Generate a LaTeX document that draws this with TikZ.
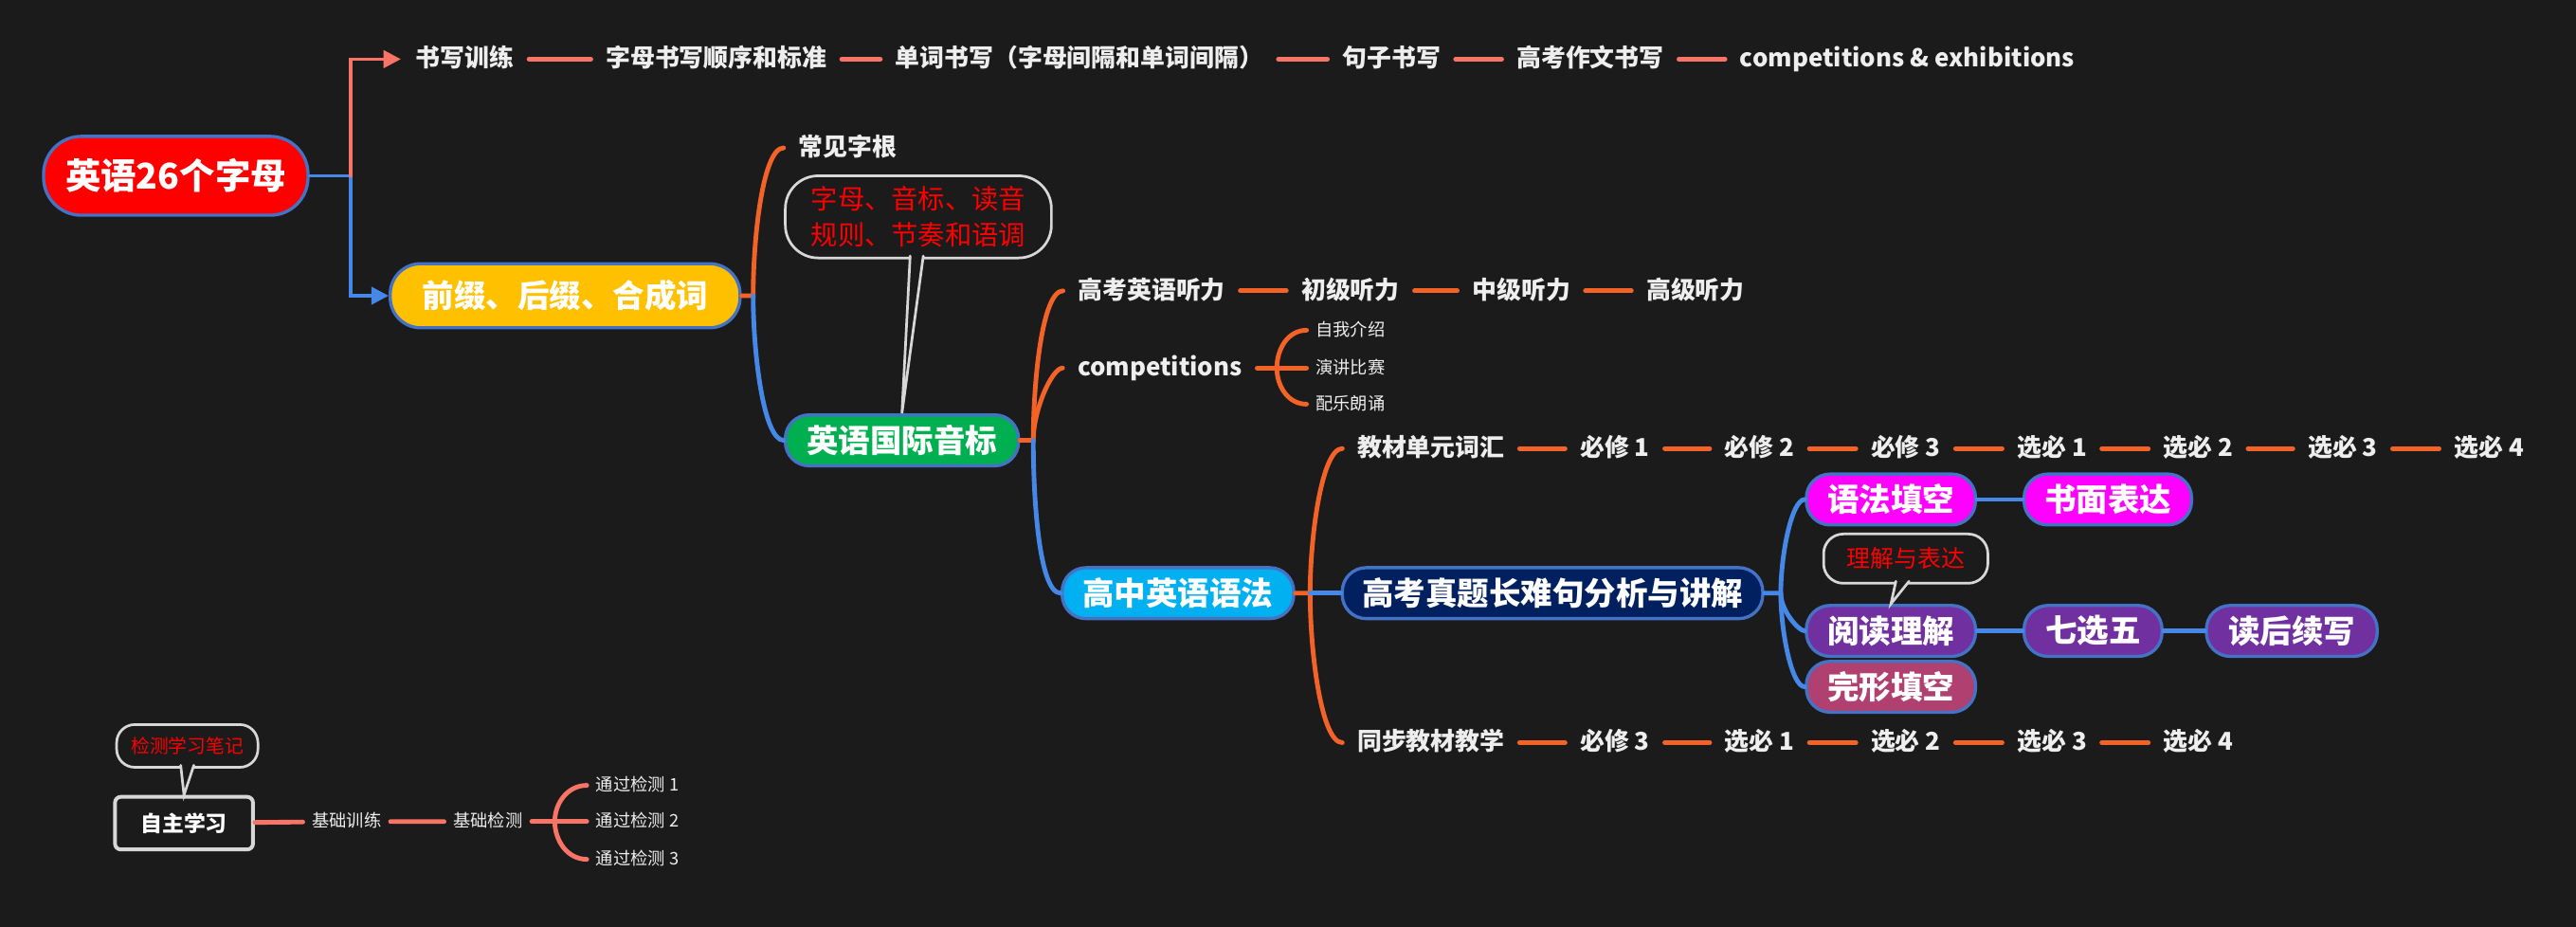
\documentclass[tikz,border=0pt]{standalone}
\usepackage{fontspec}
\setmainfont{Noto Sans CJK SC}
\usetikzlibrary{arrows.meta,calc}

\definecolor{bg}{RGB}{27,27,27}
\definecolor{fg}{RGB}{238,238,238}
\definecolor{salmon}{RGB}{248,116,102}
\definecolor{ored}{RGB}{243,98,38}
\definecolor{lblue}{RGB}{70,136,232}
\definecolor{edge}{RGB}{68,114,196}
\definecolor{cgray}{RGB}{215,215,215}
\definecolor{gold}{RGB}{255,192,0}
\definecolor{ggreen}{RGB}{0,176,80}
\definecolor{sky}{RGB}{0,176,240}
\definecolor{navy}{RGB}{0,32,96}
\definecolor{mag}{RGB}{255,0,255}
\definecolor{purp}{RGB}{112,48,160}
\definecolor{rose}{RGB}{176,64,112}

\begin{document}
\begin{tikzpicture}[x=0.02cm, y=0.02cm, every path/.style={line cap=round},
  txt/.style={text=fg, font=\fontsize{8.5}{10}\selectfont\bfseries, text height=7pt, text depth=1.5pt, inner sep=5pt},
  small/.style={text=fg, font=\fontsize{6}{7}\selectfont, text height=5pt, text depth=1pt, inner sep=3pt},
  box/.style={draw=edge, line width=1.1pt, text=white, font=\fontsize{11}{13}\selectfont\bfseries, minimum height=0.62cm, rounded corners=0.29cm, inner sep=0pt},
  callout/.style={draw=cgray, fill=bg, line width=0.9pt, text=red, align=center, inner sep=0pt},
  tail/.style={draw=cgray, fill=bg, line width=0.9pt, line join=miter},
  sline/.style={salmon, line width=1.6pt},
  oline/.style={ored, line width=1.6pt},
  bline/.style={lblue, line width=1.6pt},
  toup/.style={out=90, in=180, in looseness=0.35},
  todown/.style={out=-90, in=180, in looseness=0.35}]

\fill[bg] (0,0) rectangle (1568,-564);

% root and first level
\node (root) [box, fill=red, minimum width=3.22cm, minimum height=0.96cm, rounded corners=0.46cm, font=\fontsize{12.3}{15}\selectfont\bfseries] at (107,-107) {英语26个字母};
\node (affix) [box, fill=gold, minimum width=4.26cm, minimum height=0.78cm, rounded corners=0.37cm] at (344,-180) {前缀、后缀、合成词};

% writing row
\node (w0) [txt] at (283,-36) {书写训练};
\node (w1) [txt] at (436,-36) {字母书写顺序和标准};
\node (w2) [txt] at (657,-36) {单词书写（字母间隔和单词间隔）};
\node (w3) [txt] at (847,-36) {句子书写};
\node (w4) [txt] at (968,-36) {高考作文书写};
\node (w5) [txt] at (1161,-36) {competitions \& exhibitions};

\draw[bline, line width=1.2pt, -{Triangle[length=6pt,width=6pt]}] (root.east) -- ++(25,0) |- (affix.west);
\draw[sline, line width=1.2pt, -{Triangle[length=6pt,width=6pt]}] (root.east) ++(25,0) |- (w0.west);
\draw[sline] (w0) -- (w1) -- (w2) -- (w3) -- (w4) -- (w5);

% phonetics
\node (roots) [txt] at (516,-90) {常见字根};
\node (ipa) [box, fill=ggreen, minimum width=2.84cm] at (549,-268) {英语国际音标};
\node (c1) [callout, minimum width=3.24cm, minimum height=1cm, rounded corners=0.4cm, font=\fontsize{9.3}{12.5}\selectfont] at (559,-132) {字母、音标、读音\\规则、节奏和语调};
\filldraw[tail] ($(c1.south)+(-5,2)$) -- (ipa.north) -- ($(c1.south)+(3,2)$);

\draw[oline] (affix.east) -- ++(7,0) coordinate (ja) to[toup] (roots.west);
\draw[bline] (ja) to[todown] (ipa.west);

% listening and competitions
\node (l0) [txt] at (701,-177) {高考英语听力};
\node (l1) [txt] at (822,-177) {初级听力};
\node (l2) [txt] at (926,-177) {中级听力};
\node (l3) [txt] at (1032,-177) {高级听力};
\node (comp) [txt] at (706,-224) {competitions};
\node (s1) [small] at (822,-201) {自我介绍};
\node (s2) [small] at (822,-224) {演讲比赛};
\node (s3) [small] at (822,-246) {配乐朗诵};
\node (gram) [box, fill=sky, minimum width=2.82cm] at (717,-361) {高中英语语法};

\draw[oline] (ipa.east) -- ++(8,0) coordinate (jb) to[toup] (l0.west);
\draw[oline] (jb) to[toup] (comp.west);
\draw[bline] (jb) to[todown] (gram.west);
\draw[oline] (l0) -- (l1) -- (l2) -- (l3);
\draw[oline] (comp) -- (s2);
\draw[oline] (comp.east) ++(12,0) coordinate (jc) to[out=90, in=180] (s1.west);
\draw[oline] (jc) to[out=-90, in=180] (s3.west);

% vocabulary rows
\node (v0) [txt] at (871,-273) {教材单元词汇};
\node (v1) [txt] at (983,-273) {必修 1};
\node (v2) [txt] at (1071,-273) {必修 2};
\node (v3) [txt] at (1160,-273) {必修 3};
\node (v4) [txt] at (1249,-273) {选必 1};
\node (v5) [txt] at (1338,-273) {选必 2};
\node (v6) [txt] at (1426,-273) {选必 3};
\node (v7) [txt] at (1515,-273) {选必 4};
\node (t0) [txt] at (871,-452) {同步教材教学};
\node (t1) [txt] at (983,-452) {必修 3};
\node (t2) [txt] at (1071,-452) {选必 1};
\node (t3) [txt] at (1160,-452) {选必 2};
\node (t4) [txt] at (1249,-452) {选必 3};
\node (t5) [txt] at (1338,-452) {选必 4};
\node (gk) [box, fill=navy, minimum width=5.12cm] at (945,-361) {高考真题长难句分析与讲解};

\draw[oline] (gram.east) -- ++(9,0) coordinate (jd) to[toup] (v0.west);
\draw[oline] (jd) to[todown] (t0.west);
\draw[bline] (jd) -- (gk.west);
\draw[oline] (v0) -- (v1) -- (v2) -- (v3) -- (v4) -- (v5) -- (v6) -- (v7);
\draw[oline] (t0) -- (t1) -- (t2) -- (t3) -- (t4) -- (t5);

% exam tasks
\node (q1) [box, fill=mag, minimum width=2.06cm] at (1151,-304) {语法填空};
\node (q2) [box, fill=mag, minimum width=2.04cm] at (1283,-304) {书面表达};
\node (r1) [box, fill=purp, minimum width=2.06cm] at (1151,-384) {阅读理解};
\node (r2) [box, fill=purp, minimum width=1.68cm] at (1274,-384) {七选五};
\node (r3) [box, fill=purp, minimum width=2.08cm] at (1395,-384) {读后续写};
\node (q3) [box, fill=rose, minimum width=2.06cm] at (1151,-418) {完形填空};
\node (c2) [callout, minimum width=2cm, minimum height=0.6cm, rounded corners=0.24cm, font=\fontsize{8.2}{10}\selectfont] at (1160,-340) {理解与表达};
\filldraw[tail] ($(c2.south)+(-6,2)$) -- (r1.north) -- ($(c2.south)+(2,2)$);

\draw[bline] (gk.east) -- ++(10,0) coordinate (je) to[toup] (q1.west);
\draw[bline] (je) to[todown] (r1.west);
\draw[bline] (je) to[todown] (q3.west);
\draw[bline] (q1) -- (q2);
\draw[bline] (r1) -- (r2) -- (r3);

% self study
\node (self) [draw=cgray, fill=bg, line width=1.3pt, rounded corners=2pt, text=white, font=\fontsize{7.5}{9}\selectfont\bfseries, minimum width=1.68cm, minimum height=0.64cm] at (112,-501) {自主学习};
\node (c3) [callout, minimum width=1.72cm, minimum height=0.52cm, rounded corners=0.22cm, font=\fontsize{6.5}{8}\selectfont] at (114,-454) {检测学习笔记};
\filldraw[tail] ($(c3.south)+(-4,2)$) -- (self.north) -- ($(c3.south)+(4,2)$);
\node (b1) [small] at (211,-500) {基础训练};
\node (b2) [small] at (297,-500) {基础检测};
\node (p1) [small] at (388,-478) {通过检测 1};
\node (p2) [small] at (388,-500) {通过检测 2};
\node (p3) [small] at (388,-523) {通过检测 3};

\draw[sline] (self) -- (b1) -- (b2);
\draw[sline] (b2) -- (p2);
\draw[sline] (b2.east) ++(14,0) coordinate (jf) to[out=90, in=180] (p1.west);
\draw[sline] (jf) to[out=-90, in=180] (p3.west);

\end{tikzpicture}
\end{document}
